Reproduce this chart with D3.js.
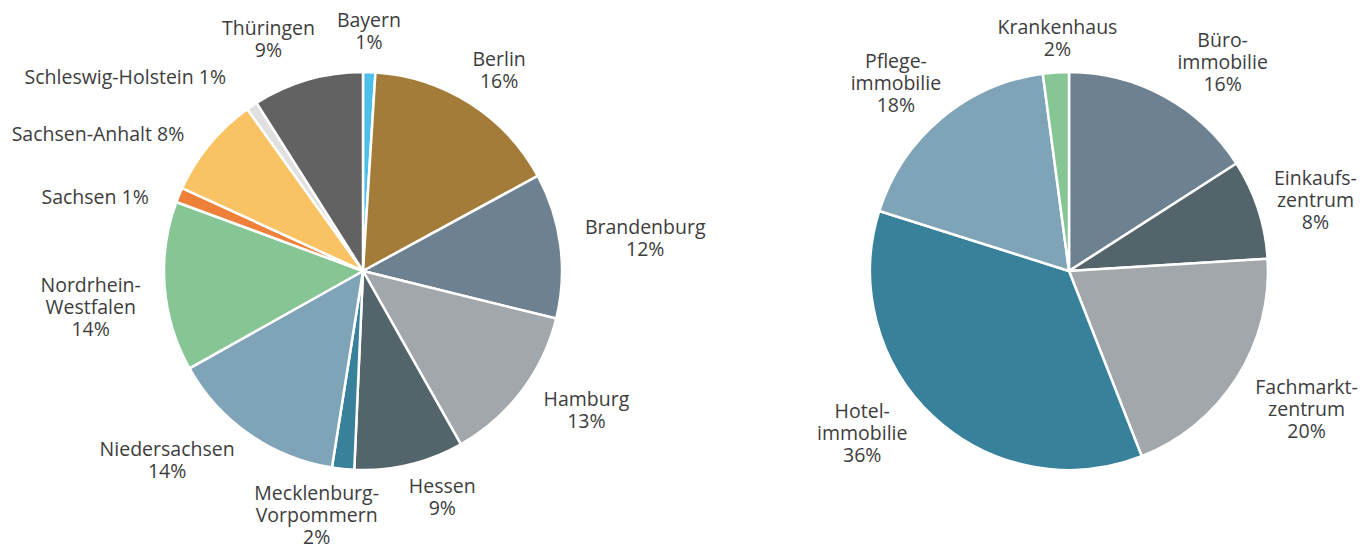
<!DOCTYPE html>
<html>
<head>
<meta charset="utf-8">
<script src="https://cdn.jsdelivr.net/npm/d3@7"></script>
<style>
  body { margin: 0; background: #fff; }
  text { font-family: "Open Sans", "Noto Sans", sans-serif; fill: #3d3d3d; }
</style>
</head>
<body>
<svg id="chart" width="1372" height="545"></svg>
<script>
// Bundesländer (linke Torte)
const stateNames = ["Bayern", "Berlin", "Brandenburg", "Hamburg", "Hessen",
  "Mecklenburg-\nVorpommern", "Niedersachsen", "Nordrhein-\nWestfalen", "Sachsen",
  "Sachsen-Anhalt", "Schleswig-Holstein", "Thüringen"];
const stateShares = [1.0, 16.1, 11.8, 13.0, 8.9, 1.8, 14.4, 13.8, 1.2, 8.3, 0.9, 9.0];
const stateColors = ["#4dbfea", "#a37c3a", "#6e8190", "#a2a7ab", "#54646b", "#37819a",
  "#80a4b7", "#86c594", "#ee803a", "#f9c262", "#e0e0e0", "#626262"];
const stateInline = ["Sachsen", "Sachsen-Anhalt", "Schleswig-Holstein"];

// Nutzungsarten (rechte Torte)
const typeNames = ["Büro-\nimmobilie", "Einkaufs-\nzentrum", "Fachmarkt-\nzentrum",
  "Hotel-\nimmobilie", "Pflege-\nimmobilie", "Krankenhaus"];
const typeShares = [15.9, 8.1, 20.0, 35.8, 18.0, 2.1];
const typeColors = ["#6e8190", "#54646b", "#a2a7ab", "#37819a", "#80a4b7", "#86c594"];

// small manual label nudges (px), on top of the outside-end placement
const labelNudge = {
  "Bayern": [-2, 6], "Berlin": [3, 7], "Brandenburg": [3, 1], "Hamburg": [13, -5],
  "Hessen": [20, -7], "Mecklenburg-\nVorpommern": [-18, -6], "Niedersachsen": [-31, -7],
  "Nordrhein-\nWestfalen": [-2, 19], "Sachsen": [-14, 18], "Sachsen-Anhalt": [-28, 14],
  "Schleswig-Holstein": [-58, 1], "Thüringen": [-20, 4],
  "Krankenhaus": [7, 12], "Büro-\nimmobilie": [26, 17], "Einkaufs-\nzentrum": [-3, 11],
  "Fachmarkt-\nzentrum": [8, 4], "Hotel-\nimmobilie": [-25, -21], "Pflege-\nimmobilie": [-2, 10]
};

const svg = d3.select("#chart");
const radius = 199;
const lineH = 22;

function drawPie(cx, cy, names, shares, colors, inline) {
  const rows = names.map((n, i) => ({ name: n, v: shares[i], color: colors[i] }));
  const total = d3.sum(rows, d => d.v);
  const pie = d3.pie().sort(null).value(d => d.v);
  const arc = d3.arc().innerRadius(0).outerRadius(radius);
  const arcs = pie(rows);

  const g = svg.append("g").attr("transform", `translate(${cx},${cy})`);

  g.selectAll("path.slice")
    .data(arcs)
    .enter()
    .append("path")
    .attr("class", "slice")
    .attr("d", arc)
    .attr("fill", d => d.data.color)
    .attr("stroke", "#fff")
    .attr("stroke-width", 2.5)
    .attr("stroke-linejoin", "round");

  const labels = g.selectAll("text.label")
    .data(arcs)
    .enter()
    .append("text")
    .attr("class", "label")
    .attr("font-size", "19.5px")
    .attr("text-anchor", "middle");

  labels.each(function (d) {
    const pct = Math.round(d.data.v / total * 100) + "%";
    let lines = d.data.name.split("\n");
    if (inline.includes(d.data.name)) lines[lines.length - 1] += " " + pct;
    else lines.push(pct);
    const t = d3.select(this);
    lines.forEach((l, i) => {
      t.append("tspan").attr("x", 0).attr("dy", i === 0 ? 0 : lineH).text(l);
    });
    const w = this.getBBox().width;
    const h = lines.length * lineH;
    const a = (d.startAngle + d.endAngle) / 2;
    const s = Math.sin(a), c = -Math.cos(a);
    const gap = 22;
    const nudge = labelNudge[d.data.name] || [0, 0];
    const bx = (radius + gap) * s + (w / 2) * s + nudge[0];
    const by = (radius + gap) * c + (h / 2) * c + nudge[1];
    const top = by - h / 2 + 15;
    t.attr("transform", `translate(${bx},${top})`);
  });
}

drawPie(363, 271, stateNames, stateShares, stateColors, stateInline);
drawPie(1069, 271, typeNames, typeShares, typeColors, []);
</script>
</body>
</html>
